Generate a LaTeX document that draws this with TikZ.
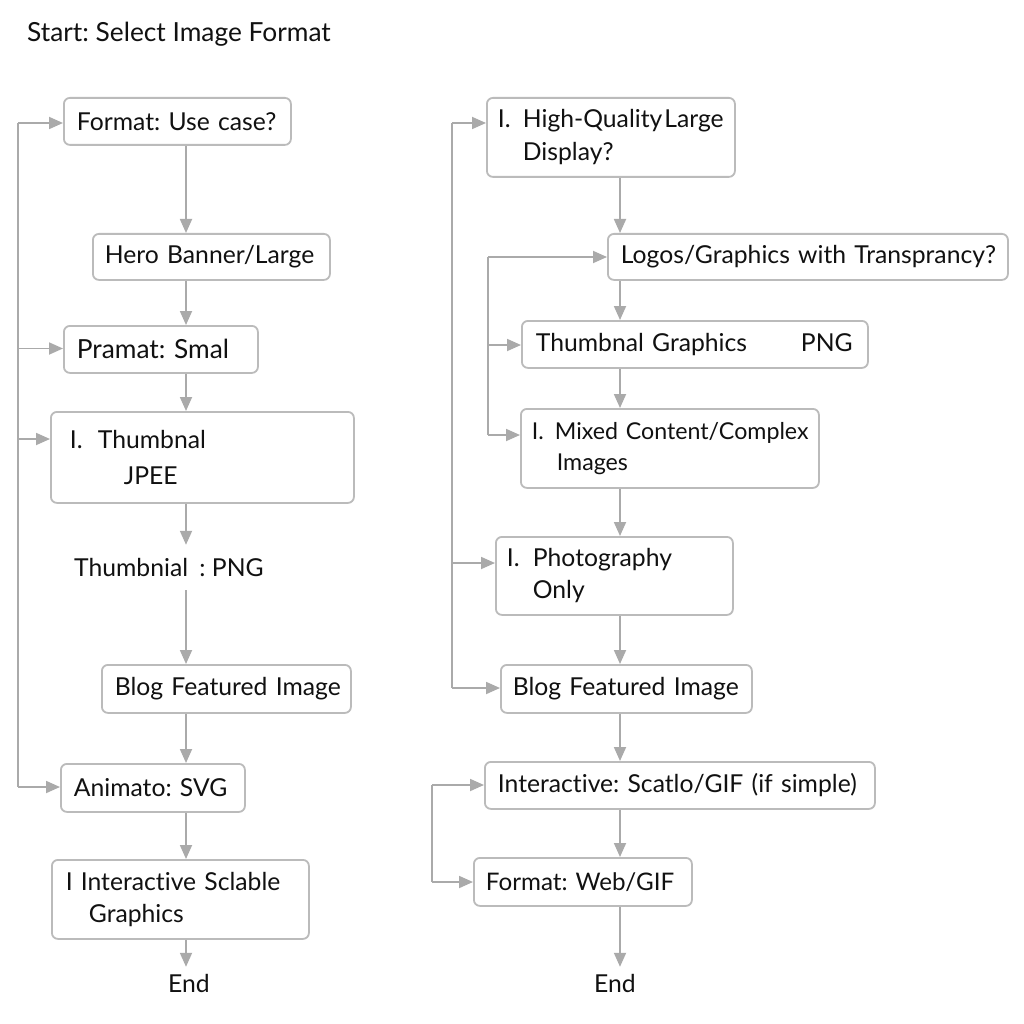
\documentclass[tikz,border=0pt]{standalone}
\usepackage{fontspec}
\setmainfont{Lato}[Ligatures={NoCommon}]
\usetikzlibrary{arrows.meta}
\definecolor{linec}{HTML}{AAAAAA}
\definecolor{boxc}{HTML}{BBBBBB}
\definecolor{txtc}{HTML}{111111}
\newcommand{\fsz}[2]{\fontsize{#1}{#2}\selectfont\frenchspacing}
\begin{document}
\begin{tikzpicture}[x=1pt,y=-1pt,
  box/.style={draw=boxc, line width=1.8pt, rounded corners=6pt, fill=white,
    inner sep=0pt, anchor=north west, align=left, font=\fsz{24.7}{33}, text=txtc},
  plain/.style={inner sep=0pt, font=\fsz{24.7}{33}, text=txtc},
  ln/.style={draw=linec, line width=1.8pt},
  arr/.style={ln, -{Triangle[length=14pt,width=12pt]}}]
\useasboundingbox[fill=white] (0,0) rectangle (1024,1024);

\node[plain, anchor=west, font=\fsz{26.3}{33}] (title) at (27,34) {Start: Select Image Format};

% left column
\node[box, minimum width=227pt, text width=227pt, minimum height=47pt] (b1) at (63,97) {\hspace*{13pt}Format: Use case?};
\node[box, minimum width=237pt, text width=237pt, minimum height=46pt] (b2) at (92,233) {\hspace*{12pt}Hero Banner/Large};
\node[box, minimum width=194pt, text width=194pt, minimum height=47pt, font=\fsz{26.3}{33}] (b3) at (63,325) {\hspace*{13pt}Pramat: Smal};
\node[box, minimum width=303pt, text width=303pt, minimum height=91pt, font=\fsz{24.7}{36}] (b4) at (50,411) {\hspace*{19pt}\makebox[28pt][l]{I.}Thumbnal\\\hspace*{73pt}JPEE};
\node[plain, anchor=west, minimum height=45pt] (t1) at (74,567.5) {Thumbnial \hspace{5pt}: PNG};
\node[box, minimum width=249pt, text width=249pt, minimum height=48pt] (b5) at (101,664) {\hspace*{13pt}Blog Featured Image};
\node[box, minimum width=184pt, text width=184pt, minimum height=48pt] (b6) at (60,763) {\hspace*{13pt}Animato: SVG};
\node[box, minimum width=257pt, text width=257pt, minimum height=79pt, font=\fsz{24.7}{32}] (b7) at (51,859) {\hspace*{14pt}\makebox[15pt][l]{I}Interactive Sclable\\\hspace*{37pt}Graphics};
\node[plain, minimum height=32pt] (e1) at (189,983) {End};

% right column
\node[box, minimum width=248pt, text width=248pt, minimum height=79pt] (r1) at (486,97) {\hspace*{11pt}\makebox[25pt][l]{I.}{\spaceskip=2pt\relax High-Quality Large}\\\hspace*{36pt}Display?};
\node[box, minimum width=400pt, text width=400pt, minimum height=46pt] (r2) at (607,233) {\hspace*{13pt}Logos/Graphics with Transprancy?};
\node[box, minimum width=346pt, text width=346pt, minimum height=47pt] (r3) at (521,320) {\hspace*{14pt}\makebox[265pt][l]{Thumbnal Graphics}PNG};
\node[box, minimum width=298pt, text width=298pt, minimum height=79pt, font=\fsz{23.2}{31}] (r4) at (520,408) {\hspace*{11pt}\makebox[23pt][l]{I.}Mixed Content/Complex\\\hspace*{36pt}Images};
\node[box, minimum width=237pt, text width=237pt, minimum height=78pt, font=\fsz{24.7}{32}] (r5) at (495,536) {\hspace*{11pt}\makebox[26pt][l]{I.}Photography\\\hspace*{37pt}Only};
\node[box, minimum width=251pt, text width=251pt, minimum height=48pt] (r6) at (500,664) {\hspace*{12pt}Blog Featured Image};
\node[box, minimum width=390pt, text width=390pt, minimum height=47pt] (r7) at (484,761) {\hspace*{13pt}Interactive: Scatlo/GIF (if simple)};
\node[box, minimum width=218pt, text width=218pt, minimum height=48pt, font=\fsz{24.2}{33}] (r8) at (473,857) {\hspace*{12pt}Format: Web/GIF};
\node[plain, minimum height=32pt] (e2) at (615,983) {End};

% column axes
\coordinate (LX) at (186,0);
\coordinate (RX) at (620,0);

% left vertical flow
\draw[arr] (b1.south -| LX) -- (b2.north -| LX);
\draw[arr] (b2.south -| LX) -- (b3.north -| LX);
\draw[arr] (b3.south -| LX) -- (b4.north -| LX);
\draw[arr] (b4.south -| LX) -- (t1.north -| LX);
\draw[arr] (t1.south -| LX) -- (b5.north -| LX);
\draw[arr] (b5.south -| LX) -- (b6.north -| LX);
\draw[arr] (b6.south -| LX) -- (b7.north -| LX);
\draw[arr] (b7.south -| LX) -- (e1.north -| LX);

% right vertical flow
\draw[arr] (r1.south -| RX) -- (r2.north -| RX);
\draw[arr] (r2.south -| RX) -- (r3.north -| RX);
\draw[arr] (r3.south -| RX) -- (r4.north -| RX);
\draw[arr] (r4.south -| RX) -- (r5.north -| RX);
\draw[arr] (r5.south -| RX) -- (r6.north -| RX);
\draw[arr] (r6.south -| RX) -- (r7.north -| RX);
\draw[arr] (r7.south -| RX) -- (r8.north -| RX);
\draw[arr] (r8.south -| RX) -- (e2.north -| RX);

% left feedback line
\coordinate (L1) at (18,123);
\coordinate (L3) at (18,348.5);
\coordinate (L4) at (18,439);
\coordinate (L6) at (18,787);
\draw[ln] (L1) -- (L6);
\draw[arr] (L1) -- (L1 -| b1.west);
\draw[arr] (L3) -- (L3 -| b3.west);
\draw[arr] (L4) -- (L4 -| b4.west);
\draw[arr] (L6) -- (L6 -| b6.west);

% right outer feedback line
\coordinate (O1) at (452,123);
\coordinate (O5) at (452,563);
\coordinate (O6) at (452,688);
\draw[ln] (O1) -- (O6);
\draw[arr] (O1) -- (O1 -| r1.west);
\draw[arr] (O5) -- (O5 -| r5.west);
\draw[arr] (O6) -- (O6 -| r6.west);

% right inner feedback line
\coordinate (I2) at (488,257);
\coordinate (I3) at (488,345);
\coordinate (I4) at (488,435);
\draw[ln] (I2) -- (I4);
\draw[arr] (I2) -- (I2 -| r2.west);
\draw[arr] (I3) -- (I3 -| r3.west);
\draw[arr] (I4) -- (I4 -| r4.west);

% bottom feedback line
\coordinate (B7) at (432,785);
\coordinate (B8) at (432,882);
\draw[ln] (B7) -- (B8);
\draw[arr] (B7) -- (B7 -| r7.west);
\draw[arr] (B8) -- (B8 -| r8.west);
\end{tikzpicture}
\end{document}
